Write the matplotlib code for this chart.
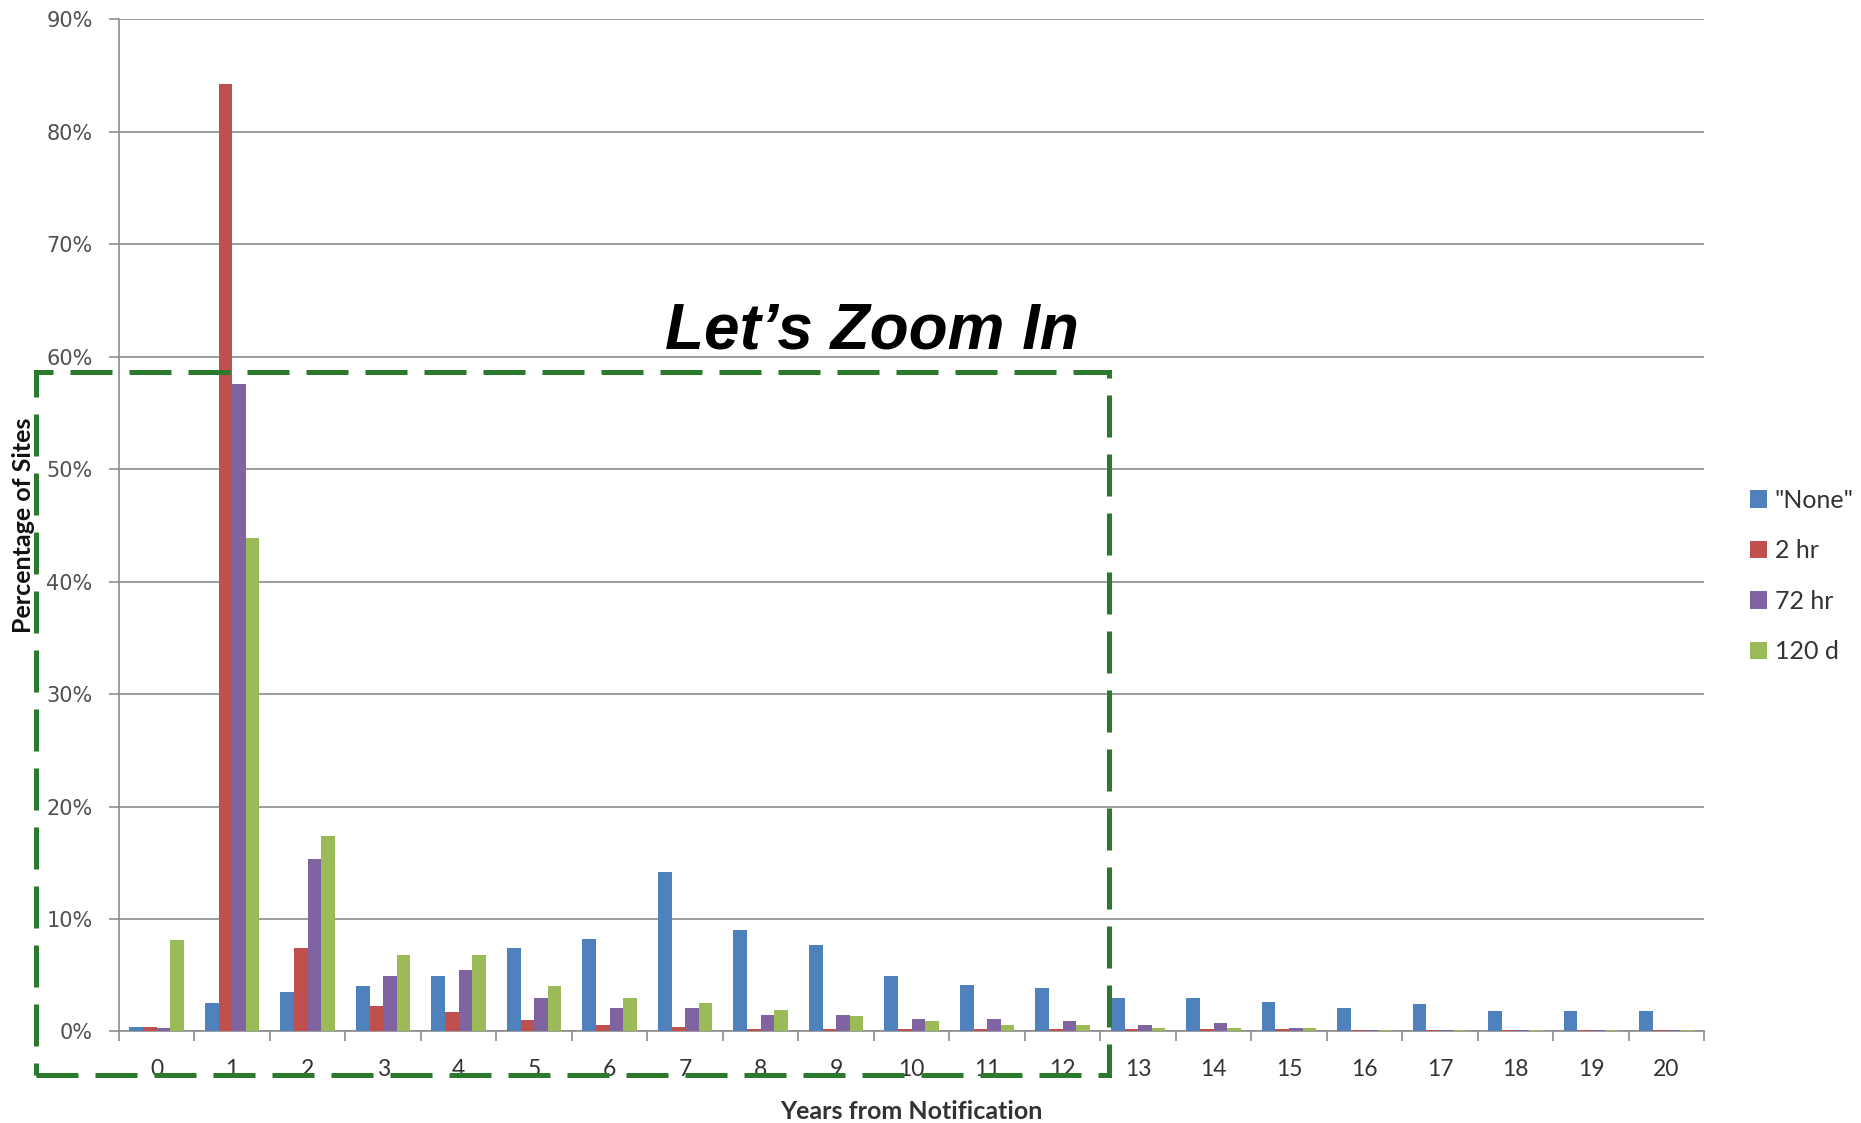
import matplotlib.pyplot as plt
import numpy as np
from matplotlib.patches import Rectangle
from matplotlib.ticker import FixedLocator, FuncFormatter, MultipleLocator

# years since notification and share of sites (percent) for each deadline
years = list(range(21))
series_names = ['"None"', '2 hr', '72 hr', '120 d']
none_pct = [0.4, 2.5, 3.5, 4.0, 4.9, 7.4, 8.2, 14.2, 9.0, 7.7, 4.9,
            4.1, 3.9, 3.0, 3.0, 2.6, 2.05, 2.4, 1.85, 1.85, 1.85]
two_hr_pct = [0.4, 84.2, 7.4, 2.3, 1.75, 1.0, 0.6, 0.4, 0.2, 0.2, 0.2,
              0.2, 0.2, 0.2, 0.2, 0.2, 0.15, 0.15, 0.15, 0.15, 0.15]
seventy_two_hr_pct = [0.27, 57.6, 15.3, 4.9, 5.5, 3.0, 2.1, 2.1, 1.5, 1.5, 1.1,
                      1.1, 0.95, 0.55, 0.75, 0.35, 0.15, 0.15, 0.15, 0.15, 0.15]
one_twenty_d_pct = [8.1, 43.9, 17.4, 6.8, 6.8, 4.0, 3.0, 2.5, 1.9, 1.4, 0.9,
                    0.55, 0.55, 0.35, 0.35, 0.35, 0.15, 0.15, 0.15, 0.15, 0.15]
colors = ['#4F81BD', '#C0504D', '#8064A2', '#9BBB59']

grid_grey = '#8c8c8c'
text_grey = '#505050'

fig = plt.figure(figsize=(18.61, 11.23), dpi=100)
ax = fig.add_axes([0.0639, 0.0815, 0.8519, 0.9015])

x = np.arange(len(years))
width = 0.18
all_series = [none_pct, two_hr_pct, seventy_two_hr_pct, one_twenty_d_pct]
for i, (vals, name, col) in enumerate(zip(all_series, series_names, colors)):
    ax.bar(x + (i - 1.5) * width, vals, width, color=col, label=name, zorder=3)

ax.set_xlim(-0.5, len(years) - 0.5)
ax.set_ylim(0, 90)
ax.yaxis.set_major_locator(MultipleLocator(10))
ax.yaxis.set_major_formatter(FuncFormatter(lambda v, p: f'{v:.0f}%'))
ax.grid(axis='y', color=grid_grey, linewidth=1.2, zorder=0)

ax.set_xticks(x)
ax.set_xticklabels([str(y) for y in years], fontfamily='Lato', fontsize=16.5, color='#333333')
ax.xaxis.set_minor_locator(FixedLocator(np.arange(-0.5, len(years), 1.0)))
ax.tick_params(axis='x', which='major', length=0, pad=20)
ax.tick_params(axis='x', which='minor', length=7, width=1.2, color=grid_grey, direction='out')
ax.tick_params(axis='y', length=7, width=1.2, color=grid_grey, pad=12,
               labelsize=15, labelcolor=text_grey)

for side in ['top', 'right']:
    ax.spines[side].set_visible(False)
for side in ['left', 'bottom']:
    ax.spines[side].set_color(grid_grey)
    ax.spines[side].set_linewidth(1.2)

ax.set_xlabel('Years from Notification', fontfamily='Lato', fontweight='bold',
              fontsize=18, color='#333333', labelpad=14)
ax.set_ylabel('Percentage of Sites', fontfamily='Lato', fontweight='bold',
              fontsize=18, color='#111111', labelpad=8)

leg = ax.legend(loc='center left', bbox_to_anchor=(0.928, 0.487),
                bbox_transform=fig.transFigure, frameon=False,
                prop={'family': 'Lato', 'size': 18},
                handlelength=0.7, handleheight=0.7, handletextpad=0.3,
                labelspacing=1.1)
for t in leg.get_texts():
    t.set_color('#333333')

# dashed highlight box around years 0-12
box = Rectangle((0.0191, 0.0424), 0.5766, 0.6266, transform=fig.transFigure,
                fill=False, edgecolor='#2b7a2b', linewidth=3.6,
                linestyle=(0, (8.4, 3.4)), zorder=10)
fig.patches.append(box)

fig.text(0.4685, 0.690, 'Let\u2019s Zoom In', fontfamily='Liberation Sans',
         fontweight='bold', fontstyle='italic', fontsize=46, color='black',
         ha='center', va='baseline')

fig.savefig('out.png', dpi=100)
